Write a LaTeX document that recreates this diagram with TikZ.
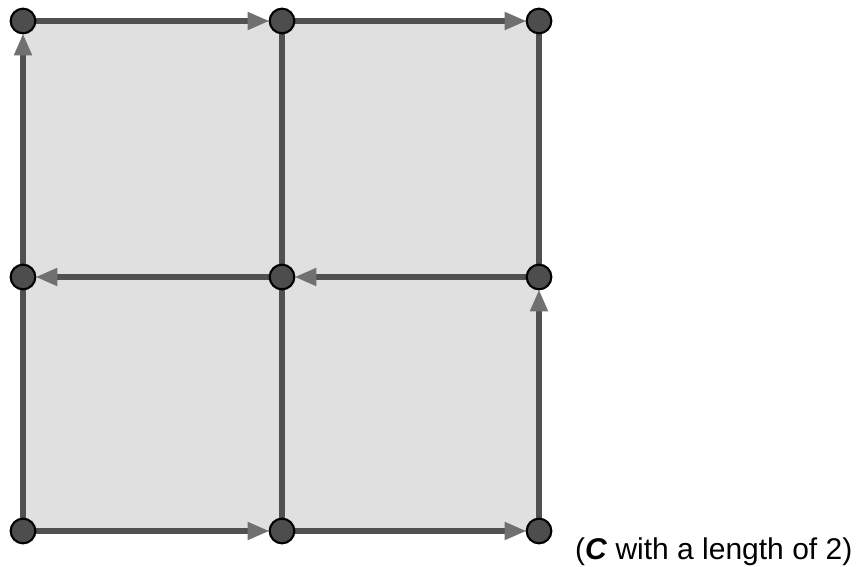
\documentclass[tikz,border=0pt]{standalone}
\usepackage{fontspec}
\setmainfont{Liberation Sans}
\usetikzlibrary{arrows.meta,positioning}
\definecolor{edge}{RGB}{80,80,80}
\definecolor{tipgray}{RGB}{112,112,112}
\definecolor{dotgray}{RGB}{77,77,77}
\definecolor{cell}{RGB}{224,224,224}
\tikzset{
  vtx/.style={circle,draw=black,fill=dotgray,line width=1.8pt,minimum size=0.74cm,inner sep=0pt},
  side/.style={draw=edge,line width=5pt},
  flow/.style={side,-{Triangle[length=0.66cm,width=0.5cm,color=tipgray]},shorten >=0.37cm},
}
\begin{document}
\begin{tikzpicture}[x=0.03cm,y=-0.03cm]
    \useasboundingbox (0,0) rectangle (858,567);
    \fill[cell] (23,21) rectangle (539,531);
    % grid points
    \coordinate (a0) at (23,21);  \coordinate (b0) at (282,21);  \coordinate (c0) at (539,21);
    \coordinate (a1) at (23,277); \coordinate (b1) at (282,277); \coordinate (c1) at (539,277);
    \coordinate (a2) at (23,531); \coordinate (b2) at (282,531); \coordinate (c2) at (539,531);
    % plain sides
    \draw[side] (a1) -- (a2);
    \draw[side] (b0) -- (b1) -- (b2);
    \draw[side] (c0) -- (c1);
    % oriented sides
    \draw[flow] (a0) -- (b0);
    \draw[flow] (b0) -- (c0);
    \draw[flow] (a1) -- (a0);
    \draw[flow] (c1) -- (b1);
    \draw[flow] (b1) -- (a1);
    \draw[flow] (c2) -- (c1);
    \draw[flow] (a2) -- (b2);
    \draw[flow] (b2) -- (c2);
    \foreach \p in {a0,b0,c0,a1,b1,c1,a2,b2,c2}
      \node[vtx] (v\p) at (\p) {};
    \node[anchor=base west,inner sep=0pt,font=\fontsize{25.6}{30}\selectfont] (cap) at (575,559) {(\textbf{\textit{C}} with a length of 2)};
\end{tikzpicture}
\end{document}
